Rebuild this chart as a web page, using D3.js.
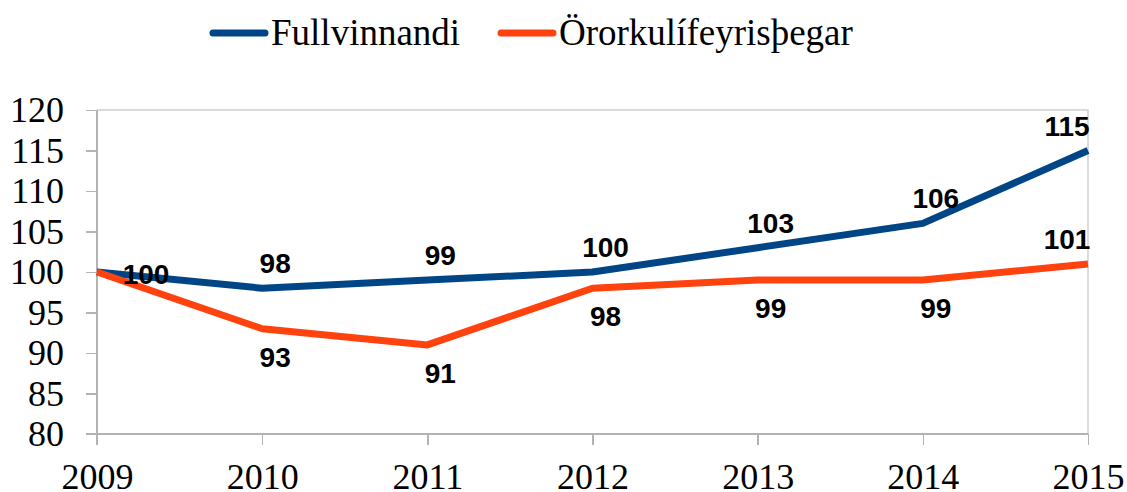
<!DOCTYPE html>
<html>
<head>
<meta charset="utf-8">
<title>Fullvinnandi og örorkulífeyrisþegar</title>
<script src="https://cdn.jsdelivr.net/npm/d3@7"></script>
<style>
  body { margin: 0; background: #fff; }
  .axis path, .axis line { stroke: #b3b3b3; stroke-width: 1.5; shape-rendering: crispEdges; }
</style>
</head>
<body>
<script>
// data
var years = [2009, 2010, 2011, 2012, 2013, 2014, 2015];
var fullvinnandi = [100, 98, 99, 100, 103, 106, 115];
var ororka = [100, 93, 91, 98, 99, 99, 101];
var yTicks = [80, 85, 90, 95, 100, 105, 110, 115, 120];
var seriesNames = ["Fullvinnandi", "Örorkulífeyrisþegar"];
var seriesColors = ["#004586", "#ff420e"];
// where each value label sits (null = hidden)
var blueLabelPos = ["right", "above", "above", "above", "above", "above", "above"];
var orangeLabelPos = [null, "below", "below", "below", "below", "below", "above"];

var serif = "'Liberation Serif', 'Times New Roman', serif";
var sans = "'Liberation Sans', Arial, sans-serif";

var w = 1127, h = 492;
var plotLeft = 97, plotRight = 1088, plotTop = 110, plotBottom = 434;

var svg = d3.select("body").append("svg")
    .attr("width", w)
    .attr("height", h);

var x = d3.scalePoint().domain(years).range([plotLeft, plotRight]);
var y = d3.scaleLinear().domain([80, 120]).range([plotBottom, plotTop]);

// frame (top and right)
svg.append("path")
    .attr("d", "M" + plotLeft + "," + plotTop + "H" + plotRight + "V" + plotBottom)
    .attr("fill", "none")
    .attr("stroke", "#d0d0d0")
    .attr("stroke-width", 1.5);

// y axis
var yAxis = svg.append("g")
    .attr("class", "axis")
    .attr("transform", "translate(" + plotLeft + ",0)")
    .call(d3.axisLeft(y).tickValues(yTicks).tickSize(11).tickPadding(22).tickSizeOuter(0));
yAxis.select(".domain").attr("d", "M0," + plotTop + "V" + (plotBottom + 11));

// x axis
var xAxis = svg.append("g")
    .attr("class", "axis")
    .attr("transform", "translate(0," + plotBottom + ")")
    .call(d3.axisBottom(x).tickFormat(d3.format("d")).tickSize(11).tickPadding(15).tickSizeOuter(0));
xAxis.select(".domain").attr("d", "M" + (plotLeft - 11) + ",0H" + plotRight);
xAxis.selectAll("text").attr("dy", "0.8em");

svg.selectAll(".axis text")
    .style("font-family", serif)
    .style("font-size", "36px")
    .attr("fill", "#000");

var line = d3.line()
    .x(function(d, i) { return x(years[i]); })
    .y(function(d) { return y(d); });

var all = [fullvinnandi, ororka];
var positions = [blueLabelPos, orangeLabelPos];

svg.selectAll(".series")
    .data(all)
    .enter()
    .append("path")
    .attr("class", "series")
    .attr("d", line)
    .attr("fill", "none")
    .attr("stroke", function(d, i) { return seriesColors[i]; })
    .attr("stroke-width", 7)
    .attr("stroke-linejoin", "round");

// value labels
var labels = [];
all.forEach(function(series, s) {
    series.forEach(function(v, i) {
        if (positions[s][i] !== null) labels.push({ v: v, i: i, pos: positions[s][i] });
    });
});

svg.selectAll(".lbl")
    .data(labels)
    .enter()
    .append("text")
    .attr("class", "lbl")
    .attr("text-anchor", "middle")
    .attr("x", function(d) {
        var px = x(years[d.i]);
        if (d.pos === "right") return px + 49;
        if (d.i === years.length - 1) return px - 21;
        return px + 13;
    })
    .attr("y", function(d) {
        var py = y(d.v);
        if (d.pos === "above") return py - 25;
        if (d.pos === "below") return py + 28;
        return py + 2;
    })
    .attr("dy", "0.36em")
    .style("font-family", sans)
    .style("font-size", "28px")
    .style("font-weight", "bold")
    .text(function(d) { return d.v; });

// legend
var legendX = [210, 498];
var legend = svg.append("g").attr("class", "legend");
seriesNames.forEach(function(name, i) {
    legend.append("line")
        .attr("x1", legendX[i] + 3).attr("x2", legendX[i] + 55)
        .attr("y1", 33).attr("y2", 33)
        .attr("stroke", seriesColors[i])
        .attr("stroke-width", 7)
        .attr("stroke-linecap", "round");
    legend.append("text")
        .attr("x", legendX[i] + 61)
        .attr("y", 45)
        .style("font-family", serif)
        .style("font-size", "37px")
        .text(name);
});
</script>
</body>
</html>
